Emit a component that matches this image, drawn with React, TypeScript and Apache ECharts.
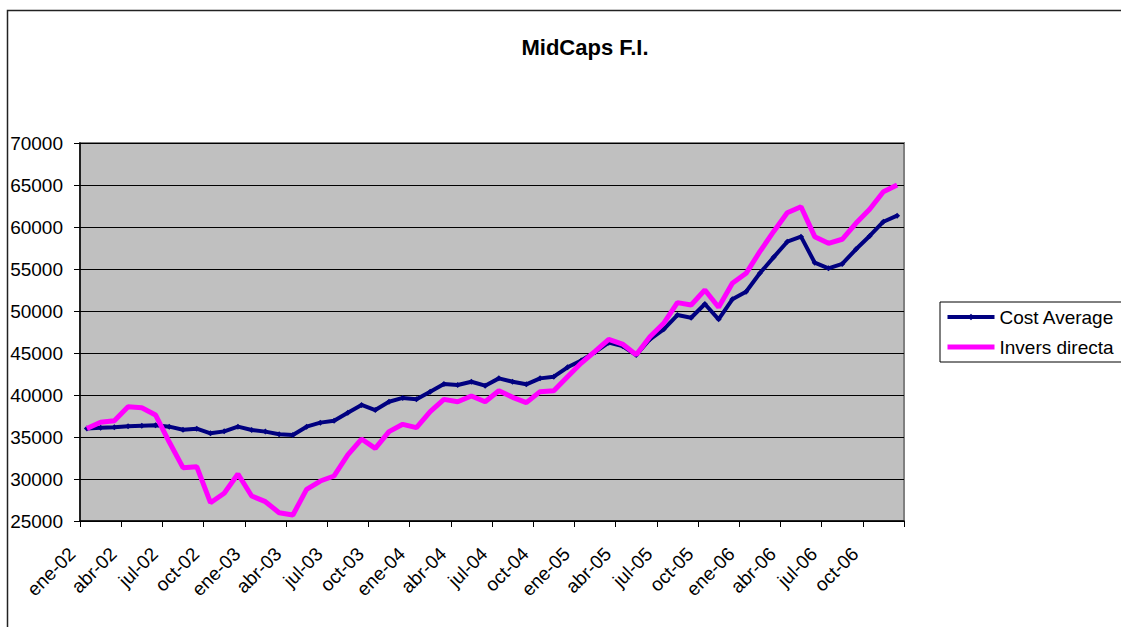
import React, { useEffect, useRef } from "react";
import * as echarts from "echarts";

const monthNames = ["ene", "feb", "mar", "abr", "may", "jun", "jul", "ago", "sep", "oct", "nov", "dic"];
const yearNames = ["02", "03", "04", "05", "06"];
const categories: string[] = yearNames.flatMap((y) => monthNames.map((m) => `${m}-${y}`));

const costAverage = [
  36000, 36100, 36150, 36270, 36350, 36390, 36230, 35870, 35990, 35440, 35670, 36230,
  35830, 35640, 35320, 35240, 36230, 36710, 36940, 37890, 38810, 38210, 39200, 39650,
  39500, 40400, 41310, 41190, 41580, 41110, 41980, 41580, 41270, 41980, 42180, 43300,
  44100, 45100, 46230, 45830, 44760, 46630, 47820, 49520, 49200, 50830, 49010, 51390,
  52300, 54490, 56390, 58250, 58850, 55750, 55080, 55600, 57350, 58930, 60630, 61350,
];

const inversDirecta = [
  36000, 36750, 36940, 38610, 38490, 37620, 34400, 31350, 31470, 27180, 28300, 30600,
  27980, 27300, 25990, 25710, 28770, 29760, 30360, 32860, 34760, 33650, 35640, 36510,
  36110, 38010, 39480, 39200, 39880, 39200, 40510, 39720, 39090, 40400, 40510, 42180,
  43800, 45200, 46630, 46070, 44800, 46940, 48540, 51000, 50710, 52500, 50440, 53300,
  54490, 57060, 59440, 61700, 62420, 58850, 58060, 58540, 60440, 62110, 64200, 65000,
];

const seriesNames = ["Cost Average", "Invers directa"];
const titleText = "MidCaps F.I.";

const FONT = "Liberation Sans, Arial, sans-serif";

export default function App() {
  const ref = useRef<HTMLDivElement>(null);

  useEffect(() => {
    if (!ref.current) return;
    const chart = echarts.init(ref.current, undefined, { renderer: "svg" });
    const toPoints = (arr: number[]) => arr.map((v, i) => [i + 0.5, v]);
    chart.setOption({
      animation: false,
      backgroundColor: "#ffffff",
      textStyle: { fontFamily: FONT },
      graphic: [
        {
          type: "rect",
          shape: { x: 7.5, y: 10.5, width: 1130, height: 640 },
          style: { fill: "none", stroke: "#222", lineWidth: 1.5 },
          silent: true,
          z: -1,
        },
        {
          type: "text",
          x: 585,
          y: 47,
          style: {
            text: titleText,
            font: `bold 22px ${FONT}`,
            fill: "#000",
            textAlign: "center",
            textVerticalAlign: "middle",
          },
        },
      ],
      grid: {
        left: 80,
        right: 217,
        top: 143,
        bottom: 106,
        show: true,
        backgroundColor: "#C0C0C0",
        borderColor: "#808080",
        borderWidth: 2,
      },
      legend: {
        orient: "vertical",
        left: 940,
        top: 302,
        data: [
          {
            name: seriesNames[0],
            itemStyle: { color: "#000080" },
            lineStyle: { color: "#000080", width: 4 },
          },
          {
            name: seriesNames[1],
            itemStyle: { opacity: 0 },
            lineStyle: { color: "#FF00FF", width: 5 },
          },
        ],
        borderColor: "#000",
        borderWidth: 1,
        padding: [4, 8, 4, 5],
        itemWidth: 47,
        itemHeight: 8,
        itemGap: 8,
        textStyle: { fontSize: 19, lineHeight: 22, color: "#000", fontFamily: FONT },
      },
      xAxis: {
        type: "value",
        min: 0,
        max: 60,
        interval: 3,
        axisLine: { show: true, lineStyle: { color: "#000", width: 1.5 } },
        axisTick: { show: true, length: 6, lineStyle: { color: "#000" } },
        splitLine: { show: false },
        axisLabel: {
          rotate: 45,
          margin: 22,
          padding: [0, 11, 0, 0],
          fontSize: 19,
          color: "#000",
          fontFamily: FONT,
          formatter: (v: number) => (v < categories.length && v % 3 === 0 ? categories[v] : ""),
        },
      },
      yAxis: {
        type: "value",
        min: 25000,
        max: 70000,
        interval: 5000,
        axisLine: { show: true, lineStyle: { color: "#000", width: 1.5 } },
        axisTick: { show: true, length: 6, lineStyle: { color: "#000" } },
        splitLine: { show: true, lineStyle: { color: "#000", width: 1 } },
        axisLabel: {
          margin: 17,
          fontSize: 19,
          color: "#000",
          fontFamily: FONT,
          formatter: (v: number) => String(v),
        },
      },
      series: [
        {
          name: seriesNames[0],
          type: "line",
          data: toPoints(costAverage),
          symbol: "diamond",
          symbolSize: 6,
          showSymbol: true,
          lineStyle: { color: "#000080", width: 4 },
          itemStyle: { color: "#000080" },
          z: 3,
        },
        {
          name: seriesNames[1],
          type: "line",
          data: toPoints(inversDirecta),
          symbol: "none",
          lineStyle: { color: "#FF00FF", width: 5 },
          itemStyle: { color: "#FF00FF" },
          z: 4,
        },
      ],
    });
    return () => chart.dispose();
  }, []);

  return (
    <div
      ref={ref}
      style={{ position: "fixed", left: 0, top: 0, width: 1121, height: 627 }}
    />
  );
}
